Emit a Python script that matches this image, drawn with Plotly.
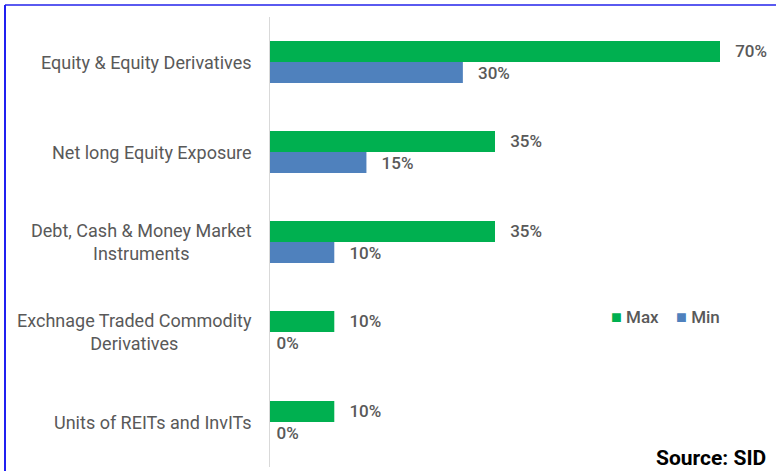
import plotly.graph_objects as go

categories = ["Equity & Equity Derivatives", "Net long Equity Exposure",
              "Debt, Cash & Money Market Instruments",
              "Exchnage Traded Commodity Derivatives", "Units of REITs and InvITs"]
label_text = ["Equity & Equity Derivatives", "Net long Equity Exposure",
              "Debt, Cash & Money Market<br>Instruments",
              "Exchnage Traded Commodity<br>Derivatives", "Units of REITs and InvITs"]
max_vals = [70, 35, 35, 10, 10]
min_vals = [30, 15, 10, 0, 0]
series_names = ["Max", "Min"]
series_colors = ["#00B050", "#4F81BD"]

W, H = 776, 471
L, R, T, B = 270, 16, 17, 4
pw, ph = W - L - R, H - T - B
px_per_unit = 450 / 70

FONT = "Roboto"
GREY = "#595959"


def labels(vals):
    # Excel-like gap between the bar end and its label (none for zero-length bars)
    return [("\u2002\u2009" if v > 0 else "\u2009") + f"{v}%" for v in vals]


fig = go.Figure()
for name, vals, col in zip(series_names, [max_vals, min_vals], series_colors):
    fig.add_trace(go.Bar(y=categories, x=vals, name=name, orientation="h",
                         marker=dict(color=col, line=dict(width=0)),
                         text=labels(vals), textposition="outside",
                         textfont=dict(family=FONT, size=17, color=GREY, weight=500),
                         cliponaxis=False, showlegend=False))

annotations = []
for c, t in zip(categories, label_text):
    annotations.append(dict(x=(254 - L) / pw, xref="paper", y=c, yref="y", text=t,
                            showarrow=False, xanchor="right", align="center",
                            font=dict(family=FONT, size=18, color=GREY)))

legend_txt = "\u2003".join(
    f"<span style='color:{col};font-size:18px'>■</span> <span style='font-weight:500'>{n}</span>"
    for n, col in zip(series_names, series_colors))
annotations.append(dict(x=(609 - L) / pw, xref="paper", y=1 - (316 - T) / ph, yref="paper",
                        text=legend_txt, showarrow=False, xanchor="left", yanchor="middle",
                        font=dict(family=FONT, size=17, color=GREY)))
annotations.append(dict(x=(768 - L) / pw, xref="paper", y=1 - (458 - T) / ph, yref="paper",
                        text="<b>Source: SID</b>", showarrow=False, xanchor="right",
                        yanchor="middle", font=dict(family=FONT, size=21, color="#000000")))

shapes = [
    dict(type="line", xref="paper", yref="paper", x0=(5 - L) / pw, x1=(W + 10 - L) / pw,
         y0=1 + (T - 5) / ph, y1=1 + (T - 5) / ph, line=dict(color="#5a5af0", width=2)),
    dict(type="line", xref="paper", yref="paper", x0=(5 - L) / pw, x1=(5 - L) / pw,
         y0=1 + (T - 5) / ph, y1=-(B + 10) / ph, line=dict(color="#2020f0", width=2)),
]

fig.update_layout(
    width=W, height=H, margin=dict(l=L, r=R, t=T, b=B),
    paper_bgcolor="white", plot_bgcolor="white",
    barmode="group", bargap=0.533, bargroupgap=0,
    xaxis=dict(range=[0, pw / px_per_unit], visible=False, fixedrange=True),
    yaxis=dict(autorange="reversed", showticklabels=False, showgrid=False,
               showline=True, linecolor="#d9d9d9", linewidth=1, ticks=""),
    showlegend=False,
    annotations=annotations, shapes=shapes,
    font=dict(family=FONT, color=GREY),
)

fig.write_html("out.html")
